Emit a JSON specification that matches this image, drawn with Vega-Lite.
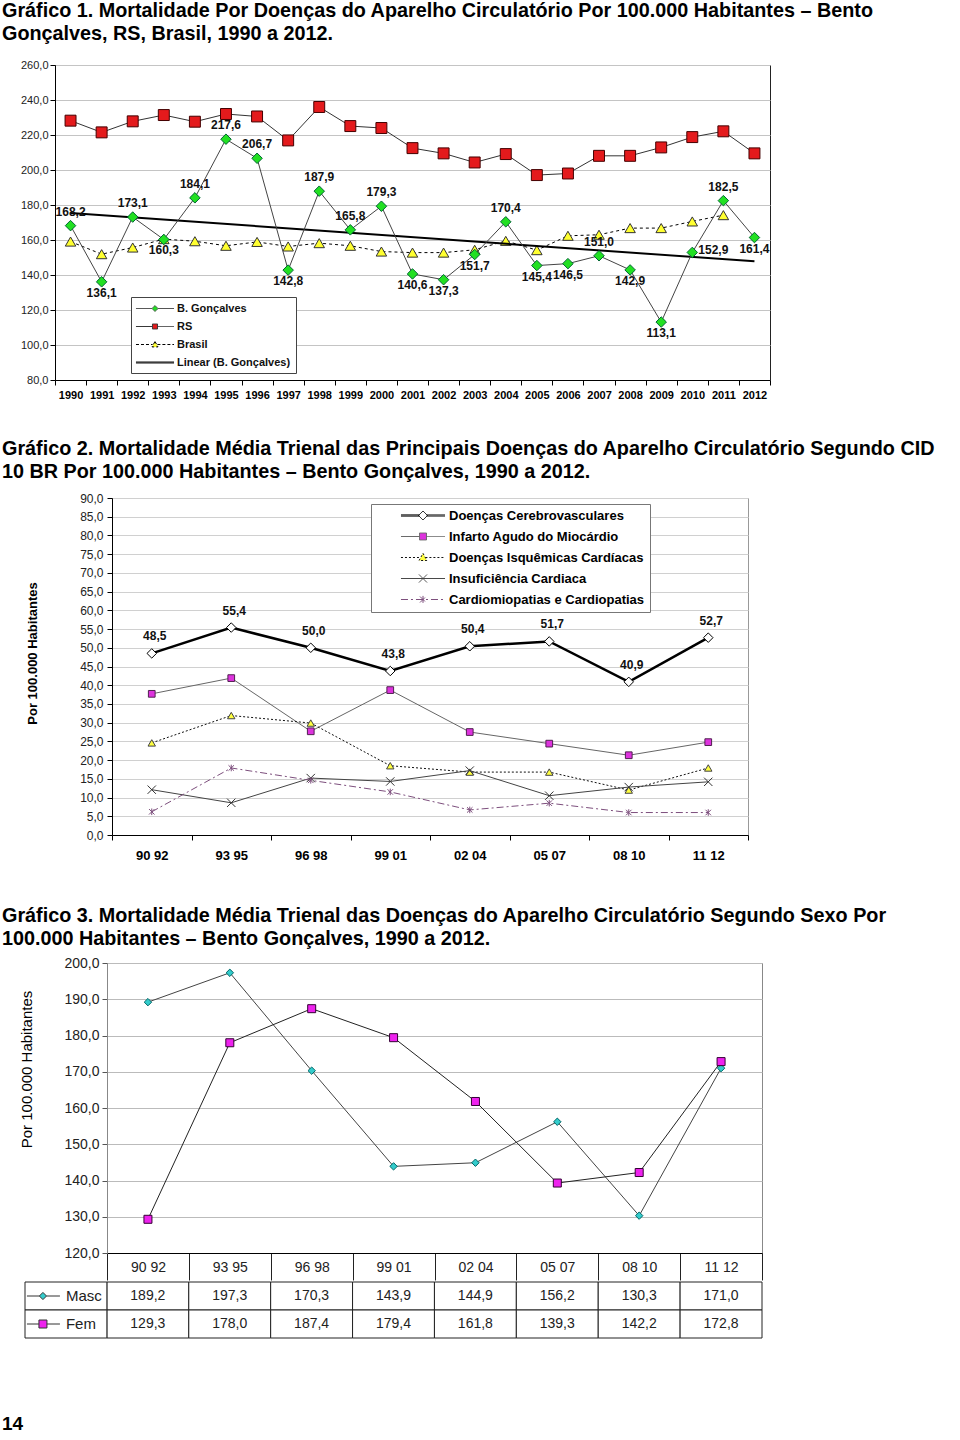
{
  "$schema": "https://vega.github.io/schema/vega-lite/v6.json",
  "padding": {"left": 2, "top": 0, "right": 0, "bottom": 0},
  "background": "white",
  "datasets": {
    "g1": [
      {"ano":1990,"serie":"B. Gonçalves","v":168.2},{"ano":1991,"serie":"B. Gonçalves","v":136.1},{"ano":1992,"serie":"B. Gonçalves","v":173.1},{"ano":1993,"serie":"B. Gonçalves","v":160.3},{"ano":1994,"serie":"B. Gonçalves","v":184.1},{"ano":1995,"serie":"B. Gonçalves","v":217.6},{"ano":1996,"serie":"B. Gonçalves","v":206.7},{"ano":1997,"serie":"B. Gonçalves","v":142.8},{"ano":1998,"serie":"B. Gonçalves","v":187.9},{"ano":1999,"serie":"B. Gonçalves","v":165.8},{"ano":2000,"serie":"B. Gonçalves","v":179.3},{"ano":2001,"serie":"B. Gonçalves","v":140.6},{"ano":2002,"serie":"B. Gonçalves","v":137.3},{"ano":2003,"serie":"B. Gonçalves","v":151.7},{"ano":2004,"serie":"B. Gonçalves","v":170.4},{"ano":2005,"serie":"B. Gonçalves","v":145.4},{"ano":2006,"serie":"B. Gonçalves","v":146.5},{"ano":2007,"serie":"B. Gonçalves","v":151.0},{"ano":2008,"serie":"B. Gonçalves","v":142.9},{"ano":2009,"serie":"B. Gonçalves","v":113.1},{"ano":2010,"serie":"B. Gonçalves","v":152.9},{"ano":2011,"serie":"B. Gonçalves","v":182.5},{"ano":2012,"serie":"B. Gonçalves","v":161.4},
      {"ano":1990,"serie":"RS","v":228.2},{"ano":1991,"serie":"RS","v":221.5},{"ano":1992,"serie":"RS","v":227.8},{"ano":1993,"serie":"RS","v":231.4},{"ano":1994,"serie":"RS","v":227.6},{"ano":1995,"serie":"RS","v":232.0},{"ano":1996,"serie":"RS","v":230.6},{"ano":1997,"serie":"RS","v":216.9},{"ano":1998,"serie":"RS","v":236.0},{"ano":1999,"serie":"RS","v":225.1},{"ano":2000,"serie":"RS","v":224.0},{"ano":2001,"serie":"RS","v":212.5},{"ano":2002,"serie":"RS","v":209.5},{"ano":2003,"serie":"RS","v":204.3},{"ano":2004,"serie":"RS","v":209.1},{"ano":2005,"serie":"RS","v":197.1},{"ano":2006,"serie":"RS","v":198.0},{"ano":2007,"serie":"RS","v":208.1},{"ano":2008,"serie":"RS","v":208.1},{"ano":2009,"serie":"RS","v":212.9},{"ano":2010,"serie":"RS","v":218.8},{"ano":2011,"serie":"RS","v":222.1},{"ano":2012,"serie":"RS","v":209.5},
      {"ano":1990,"serie":"Brasil","v":159.1},{"ano":1991,"serie":"Brasil","v":151.9},{"ano":1992,"serie":"Brasil","v":155.7},{"ano":1993,"serie":"Brasil","v":160.5},{"ano":1994,"serie":"Brasil","v":159.3},{"ano":1995,"serie":"Brasil","v":156.7},{"ano":1996,"serie":"Brasil","v":158.9},{"ano":1997,"serie":"Brasil","v":156.3},{"ano":1998,"serie":"Brasil","v":158.2},{"ano":1999,"serie":"Brasil","v":156.7},{"ano":2000,"serie":"Brasil","v":153.4},{"ano":2001,"serie":"Brasil","v":152.8},{"ano":2002,"serie":"Brasil","v":152.8},{"ano":2003,"serie":"Brasil","v":154.4},{"ano":2004,"serie":"Brasil","v":159.5},{"ano":2005,"serie":"Brasil","v":154.2},{"ano":2006,"serie":"Brasil","v":162.4},{"ano":2007,"serie":"Brasil","v":163.0},{"ano":2008,"serie":"Brasil","v":166.8},{"ano":2009,"serie":"Brasil","v":166.8},{"ano":2010,"serie":"Brasil","v":170.6},{"ano":2011,"serie":"Brasil","v":174.2}
    ],
    "g2": [
      {"per":"90 92","serie":"Doenças Cerebrovasculares","v":48.5},{"per":"93 95","serie":"Doenças Cerebrovasculares","v":55.4},{"per":"96 98","serie":"Doenças Cerebrovasculares","v":50.0},{"per":"99 01","serie":"Doenças Cerebrovasculares","v":43.8},{"per":"02 04","serie":"Doenças Cerebrovasculares","v":50.4},{"per":"05 07","serie":"Doenças Cerebrovasculares","v":51.7},{"per":"08 10","serie":"Doenças Cerebrovasculares","v":40.9},{"per":"11 12","serie":"Doenças Cerebrovasculares","v":52.7},
      {"per":"90 92","serie":"Infarto Agudo do Miocárdio","v":37.7},{"per":"93 95","serie":"Infarto Agudo do Miocárdio","v":41.9},{"per":"96 98","serie":"Infarto Agudo do Miocárdio","v":27.7},{"per":"99 01","serie":"Infarto Agudo do Miocárdio","v":38.7},{"per":"02 04","serie":"Infarto Agudo do Miocárdio","v":27.5},{"per":"05 07","serie":"Infarto Agudo do Miocárdio","v":24.4},{"per":"08 10","serie":"Infarto Agudo do Miocárdio","v":21.3},{"per":"11 12","serie":"Infarto Agudo do Miocárdio","v":24.8},
      {"per":"90 92","serie":"Doenças Isquêmicas Cardíacas","v":24.6},{"per":"93 95","serie":"Doenças Isquêmicas Cardíacas","v":31.9},{"per":"96 98","serie":"Doenças Isquêmicas Cardíacas","v":29.9},{"per":"99 01","serie":"Doenças Isquêmicas Cardíacas","v":18.5},{"per":"02 04","serie":"Doenças Isquêmicas Cardíacas","v":16.8},{"per":"05 07","serie":"Doenças Isquêmicas Cardíacas","v":16.8},{"per":"08 10","serie":"Doenças Isquêmicas Cardíacas","v":12.0},{"per":"11 12","serie":"Doenças Isquêmicas Cardíacas","v":17.9},
      {"per":"90 92","serie":"Insuficiência Cardiaca","v":12.1},{"per":"93 95","serie":"Insuficiência Cardiaca","v":8.6},{"per":"96 98","serie":"Insuficiência Cardiaca","v":15.2},{"per":"99 01","serie":"Insuficiência Cardiaca","v":14.3},{"per":"02 04","serie":"Insuficiência Cardiaca","v":17.2},{"per":"05 07","serie":"Insuficiência Cardiaca","v":10.5},{"per":"08 10","serie":"Insuficiência Cardiaca","v":12.8},{"per":"11 12","serie":"Insuficiência Cardiaca","v":14.2},
      {"per":"90 92","serie":"Cardiomiopatias e Cardiopatias","v":6.2},{"per":"93 95","serie":"Cardiomiopatias e Cardiopatias","v":17.9},{"per":"96 98","serie":"Cardiomiopatias e Cardiopatias","v":14.6},{"per":"99 01","serie":"Cardiomiopatias e Cardiopatias","v":11.5},{"per":"02 04","serie":"Cardiomiopatias e Cardiopatias","v":6.7},{"per":"05 07","serie":"Cardiomiopatias e Cardiopatias","v":8.5},{"per":"08 10","serie":"Cardiomiopatias e Cardiopatias","v":6.0},{"per":"11 12","serie":"Cardiomiopatias e Cardiopatias","v":6.0}
    ],
    "g3": [
      {"per":"90 92","sexo":"Masc","v":189.2},{"per":"93 95","sexo":"Masc","v":197.3},{"per":"96 98","sexo":"Masc","v":170.3},{"per":"99 01","sexo":"Masc","v":143.9},{"per":"02 04","sexo":"Masc","v":144.9},{"per":"05 07","sexo":"Masc","v":156.2},{"per":"08 10","sexo":"Masc","v":130.3},{"per":"11 12","sexo":"Masc","v":171.0},
      {"per":"90 92","sexo":"Fem","v":129.3},{"per":"93 95","sexo":"Fem","v":178.0},{"per":"96 98","sexo":"Fem","v":187.4},{"per":"99 01","sexo":"Fem","v":179.4},{"per":"02 04","sexo":"Fem","v":161.8},{"per":"05 07","sexo":"Fem","v":139.3},{"per":"08 10","sexo":"Fem","v":142.2},{"per":"11 12","sexo":"Fem","v":172.8}
    ]
  },
  "title": {"text": "14", "orient": "bottom", "anchor": "start", "frame": "bounds", "dx": 0, "offset": 76, "fontSize": 19, "fontWeight": "bold", "baseline": "top"},
  "spacing": 37,
  "resolve": {"scale": {"shape": "independent", "fill": "independent", "stroke": "independent", "strokeDash": "independent"}, "legend": {"shape": "independent", "fill": "independent", "stroke": "independent", "strokeDash": "independent"}},
  "vconcat": [
    {
      "title": {"text": ["Gráfico 1. Mortalidade Por Doenças do Aparelho Circulatório Por 100.000 Habitantes – Bento", "Gonçalves, RS, Brasil, 1990 a 2012."], "offset": 15},
      "bounds": "flush",
      "spacing": 0,
      "hconcat": [
        {"width": 30, "height": 1, "data": {"values": []}, "mark": "point", "encoding": {}},
        {
          "width": 715, "height": 315,
          "view": {"stroke": "#222"},
          "data": {"name": "g1"},
          "encoding": {
            "x": {"field": "ano", "type": "ordinal", "scale": {"type": "band", "paddingInner": 0, "paddingOuter": 0},
                  "axis": {"title": null, "tickBand": "extent", "tickSize": 5, "labelFontSize": 11, "labelFontWeight": "bold", "labelPadding": 4, "labelAngle": 0}},
            "y": {"field": "v", "type": "quantitative", "scale": {"domain": [80, 260], "nice": false, "zero": false},
                  "axis": {"title": null, "values": [80,100,120,140,160,180,200,220,240,260], "format": ".1f", "labelFontSize": 11, "tickSize": 5, "labelPadding": 2, "gridColor": "#c4c4c4", "labelColor": "#222"}}
          },
          "layer": [
            {"transform": [{"filter": {"field": "serie", "equal": "Brasil"}}], "mark": {"type": "line", "stroke": "#000", "strokeWidth": 1, "strokeDash": [3, 3]}},
            {"transform": [{"filter": {"field": "serie", "equal": "Brasil"}}], "mark": {"type": "point", "shape": "triangle-up", "filled": true, "fill": "#ffff30", "stroke": "#333", "strokeWidth": 1, "size": 110, "opacity": 1}},
            {"transform": [{"filter": {"field": "serie", "equal": "RS"}}], "mark": {"type": "line", "stroke": "#333", "strokeWidth": 1}},
            {"transform": [{"filter": {"field": "serie", "equal": "RS"}}], "mark": {"type": "point", "shape": "square", "filled": true, "fill": "#e41a1c", "stroke": "#400", "strokeWidth": 1, "size": 120, "opacity": 1}},
            {"transform": [{"filter": {"field": "serie", "equal": "B. Gonçalves"}}, {"regression": "v", "on": "ano"}], "mark": {"type": "line", "stroke": "#000", "strokeWidth": 2}},
            {"transform": [{"filter": {"field": "serie", "equal": "B. Gonçalves"}}], "mark": {"type": "line", "stroke": "#444", "strokeWidth": 1}},
            {"transform": [{"filter": {"field": "serie", "equal": "B. Gonçalves"}}], "mark": {"type": "point", "shape": "diamond", "filled": true, "fill": "#22e022", "stroke": "#063", "strokeWidth": 1, "size": 110, "opacity": 1}},
            {"transform": [{"filter": {"field": "serie", "equal": "B. Gonçalves"}}, {"filter": {"field": "ano", "oneOf": [1990,1992,1994,1995,1996,1998,1999,2000,2004,2007,2011]}}],
             "mark": {"type": "text", "fontSize": 12, "fontWeight": "bold", "dy": -14, "color": "#111"}, "encoding": {"text": {"field": "v", "type": "quantitative", "format": ".1f"}}},
            {"transform": [{"filter": {"field": "serie", "equal": "B. Gonçalves"}}, {"filter": {"field": "ano", "oneOf": [1991,1993,1997,2001,2002,2003,2005,2006,2008,2009,2012]}}],
             "mark": {"type": "text", "fontSize": 12, "fontWeight": "bold", "dy": 11, "color": "#111"}, "encoding": {"text": {"field": "v", "type": "quantitative", "format": ".1f"}}},
            {"transform": [{"filter": {"field": "serie", "equal": "B. Gonçalves"}}, {"filter": {"field": "ano", "oneOf": [2010]}}],
             "mark": {"type": "text", "fontSize": 12, "fontWeight": "bold", "dx": 6, "dy": -2, "align": "left", "color": "#111"}, "encoding": {"text": {"field": "v", "type": "quantitative", "format": ".1f"}}},
            {"data": {"values": [{"nota": 1}]},
             "mark": {"type": "text", "text": ["SMS - Vigilância Epidemiológica", "SES RS - NIS", "MS - Datasus"], "align": "left", "baseline": "top", "lineHeight": 14.5, "fontSize": 11, "color": "#333", "dx": 15},
             "encoding": {"x": {"datum": 2003}, "y": {"datum": 110}}},
            {"mark": {"type": "point", "filled": true, "opacity": 0},
             "encoding": {
               "shape": {"field": "serie", "type": "nominal", "scale": {"domain": ["B. Gonçalves", "RS", "Brasil", "Linear (B. Gonçalves)"], "range": ["M-3.17,0L-0.5,0M0.5,0L3.17,0M0,-0.5L0.5,0L0,0.5L-0.5,0Z", "M-3.17,0L-0.42,0M0.42,0L3.17,0M-0.42,-0.42L0.42,-0.42L0.42,0.42L-0.42,0.42Z", "M-3.17,0L-0.4,0M0.4,0L3.17,0M0,-0.5L0.5,0.4L-0.5,0.4Z", "M-3.17,-0.08L3.17,-0.08M-3.17,0.08L3.17,0.08"]},
                         "legend": {"title": null, "orient": "none", "legendX": 106, "legendY": 232, "symbolSize": 144, "symbolOffset": 12.5, "symbolOpacity": 1, "symbolStrokeWidth": 1, "labelFontSize": 11, "labelFontWeight": "bold", "labelColor": "#111", "labelOffset": 15.5, "labelLimit": 300, "fillColor": "#ffffff", "strokeColor": "#444", "padding": 5, "rowPadding": 6}},
               "fill": {"field": "serie", "type": "nominal", "scale": {"domain": ["B. Gonçalves", "RS", "Brasil", "Linear (B. Gonçalves)"], "range": ["#22e022", "#e41a1c", "#ffff30", "transparent"]},
                        "legend": {"title": null, "orient": "none", "legendX": 106, "legendY": 232, "symbolSize": 144, "symbolOffset": 12.5, "symbolOpacity": 1, "symbolStrokeWidth": 1, "labelFontSize": 11, "labelFontWeight": "bold", "labelColor": "#111", "labelOffset": 15.5, "labelLimit": 300, "fillColor": "#ffffff", "strokeColor": "#444", "padding": 5, "rowPadding": 6}},
               "stroke": {"field": "serie", "type": "nominal", "scale": {"domain": ["B. Gonçalves", "RS", "Brasil", "Linear (B. Gonçalves)"], "range": ["#555", "#333", "#000", "#000"]},
                          "legend": {"title": null, "orient": "none", "legendX": 106, "legendY": 232, "symbolSize": 144, "symbolOffset": 12.5, "symbolOpacity": 1, "symbolStrokeWidth": 1, "labelFontSize": 11, "labelFontWeight": "bold", "labelColor": "#111", "labelOffset": 15.5, "labelLimit": 300, "fillColor": "#ffffff", "strokeColor": "#444", "padding": 5, "rowPadding": 6}},
               "strokeDash": {"field": "serie", "type": "nominal", "scale": {"domain": ["B. Gonçalves", "RS", "Brasil", "Linear (B. Gonçalves)"], "range": [[1, 0], [1, 0], [3, 2], [1, 0]]},
                              "legend": {"title": null, "orient": "none", "legendX": 106, "legendY": 232, "symbolSize": 144, "symbolOffset": 12.5, "symbolOpacity": 1, "symbolStrokeWidth": 1, "labelFontSize": 11, "labelFontWeight": "bold", "labelColor": "#111", "labelOffset": 15.5, "labelLimit": 300, "fillColor": "#ffffff", "strokeColor": "#444", "padding": 5, "rowPadding": 6}}
             }}
          ]
        }
      ]
    },
    {
      "title": {"text": ["Gráfico 2. Mortalidade Média Trienal das Principais Doenças do Aparelho Circulatório Segundo CID", "10 BR Por 100.000 Habitantes – Bento Gonçalves, 1990 a 2012."], "offset": 10},
      "bounds": "flush",
      "spacing": 0,
      "hconcat": [
        {"width": 87, "height": 1, "data": {"values": []}, "mark": "point", "encoding": {}},
        {
          "width": 636, "height": 337,
          "view": {"stroke": "#999"},
          "data": {"name": "g2"},
          "encoding": {
            "x": {"field": "per", "type": "ordinal", "scale": {"type": "band", "paddingInner": 0, "paddingOuter": 0, "domain": ["90 92","93 95","96 98","99 01","02 04","05 07","08 10","11 12"]},
                  "axis": {"title": " ", "titleFontSize": 1, "titlePadding": 4, "tickBand": "extent", "tickSize": 5, "labelFontSize": 13, "labelFontWeight": "bold", "labelPadding": 9, "labelAngle": 0}},
            "y": {"field": "v", "type": "quantitative", "scale": {"domain": [0, 90], "nice": false},
                  "axis": {"title": "Por 100.000 Habitantes", "titleFontSize": 13, "titleFontWeight": "bold", "titlePadding": 40, "titleY": 155, "values": [0,5,10,15,20,25,30,35,40,45,50,55,60,65,70,75,80,85,90], "format": ".1f", "labelFontSize": 12, "tickSize": 5, "labelPadding": 4, "gridColor": "#d0d0d0", "labelColor": "#222"}}
          },
          "layer": [
            {"transform": [{"filter": {"field": "serie", "equal": "Infarto Agudo do Miocárdio"}}], "mark": {"type": "line", "stroke": "#666", "strokeWidth": 1}},
            {"transform": [{"filter": {"field": "serie", "equal": "Doenças Isquêmicas Cardíacas"}}], "mark": {"type": "line", "stroke": "#111", "strokeWidth": 1, "strokeDash": [2, 2]}},
            {"transform": [{"filter": {"field": "serie", "equal": "Insuficiência Cardiaca"}}], "mark": {"type": "line", "stroke": "#444", "strokeWidth": 1}},
            {"transform": [{"filter": {"field": "serie", "equal": "Cardiomiopatias e Cardiopatias"}}], "mark": {"type": "line", "stroke": "#7d4f7d", "strokeWidth": 1, "strokeDash": [7, 3, 2, 3]}},
            {"transform": [{"filter": {"field": "serie", "equal": "Doenças Cerebrovasculares"}}], "mark": {"type": "line", "stroke": "#000", "strokeWidth": 2.5}},
            {"transform": [{"filter": {"field": "serie", "equal": "Doenças Cerebrovasculares"}}], "mark": {"type": "point", "shape": "diamond", "filled": true, "fill": "#fff", "stroke": "#000", "strokeWidth": 1, "size": 90, "opacity": 1}},
            {"transform": [{"filter": {"field": "serie", "equal": "Infarto Agudo do Miocárdio"}}], "mark": {"type": "point", "shape": "square", "filled": true, "fill": "#dd33dd", "stroke": "#502050", "strokeWidth": 1, "size": 45, "opacity": 1}},
            {"transform": [{"filter": {"field": "serie", "equal": "Doenças Isquêmicas Cardíacas"}}], "mark": {"type": "point", "shape": "triangle-up", "filled": true, "fill": "#ffff40", "stroke": "#444", "strokeWidth": 1, "size": 55, "opacity": 1}},
            {"transform": [{"filter": {"field": "serie", "equal": "Insuficiência Cardiaca"}}], "mark": {"type": "point", "shape": "M-1,-1L1,1M-1,1L1,-1", "filled": false, "stroke": "#333", "strokeWidth": 1, "size": 70, "opacity": 1}},
            {"transform": [{"filter": {"field": "serie", "equal": "Cardiomiopatias e Cardiopatias"}}], "mark": {"type": "point", "shape": "M-1,-1L1,1M-1,1L1,-1M0,-1.2L0,1.2", "filled": false, "stroke": "#7d4f7d", "strokeWidth": 1, "size": 30, "opacity": 1}},
            {"transform": [{"filter": {"field": "serie", "equal": "Doenças Cerebrovasculares"}}],
             "mark": {"type": "text", "fontSize": 12, "fontWeight": "bold", "dy": -17, "dx": 3, "color": "#111"}, "encoding": {"text": {"field": "v", "type": "quantitative", "format": ".1f"}}},
            {"data": {"values": [{"nota": 1}]},
             "mark": {"type": "text", "text": "Fonte: SMS - Vigilância Epidemiológica", "align": "left", "baseline": "middle", "fontSize": 11, "color": "#333", "dx": 20},
             "encoding": {"x": {"datum": "90 92"}, "y": {"datum": 4.3}}},
            {"mark": {"type": "point", "filled": true, "opacity": 0},
             "encoding": {
               "shape": {"field": "serie", "type": "nominal", "scale": {"domain": ["Doenças Cerebrovasculares","Infarto Agudo do Miocárdio","Doenças Isquêmicas Cardíacas","Insuficiência Cardiaca","Cardiomiopatias e Cardiopatias"], "range": ["M-3.67,-0.1L-0.6,-0.1M0.6,-0.1L3.67,-0.1M-3.67,0.1L-0.6,0.1M0.6,0.1L3.67,0.1M0,-0.75L0.75,0L0,0.75L-0.75,0Z", "M-3.67,0L-0.58,0M0.58,0L3.67,0M-0.58,-0.58L0.58,-0.58L0.58,0.58L-0.58,0.58Z", "M-3.67,0L-0.4,0M0.4,0L3.67,0M0,-0.7L0.65,0.5L-0.65,0.5Z", "M-3.67,0L3.67,0M-0.67,-0.67L0.67,0.67M-0.67,0.67L0.67,-0.67", "M-3.67,0L3.67,0M-0.5,-0.5L0.5,0.5M-0.5,0.5L0.5,-0.5M0,-0.6L0,0.6"]},
                         "legend": {"title": null, "orient": "none", "legendX": 346, "legendY": 6, "symbolSize": 144, "symbolOffset": 40.5, "symbolOpacity": 1, "symbolStrokeWidth": 1, "labelFontSize": 13, "labelFontWeight": "bold", "labelColor": "#000", "labelOffset": 19.5, "labelLimit": 400, "fillColor": "#ffffff", "strokeColor": "#777", "padding": 5, "rowPadding": 7}},
               "fill": {"field": "serie", "type": "nominal", "scale": {"domain": ["Doenças Cerebrovasculares","Infarto Agudo do Miocárdio","Doenças Isquêmicas Cardíacas","Insuficiência Cardiaca","Cardiomiopatias e Cardiopatias"], "range": ["#ffffff", "#dd33dd", "#ffff40", "transparent", "transparent"]},
                        "legend": {"title": null, "orient": "none", "legendX": 346, "legendY": 6, "symbolSize": 144, "symbolOffset": 40.5, "symbolOpacity": 1, "symbolStrokeWidth": 1, "labelFontSize": 13, "labelFontWeight": "bold", "labelColor": "#000", "labelOffset": 19.5, "labelLimit": 400, "fillColor": "#ffffff", "strokeColor": "#777", "padding": 5, "rowPadding": 7}},
               "stroke": {"field": "serie", "type": "nominal", "scale": {"domain": ["Doenças Cerebrovasculares","Infarto Agudo do Miocárdio","Doenças Isquêmicas Cardíacas","Insuficiência Cardiaca","Cardiomiopatias e Cardiopatias"], "range": ["#000", "#666", "#111", "#444", "#7d4f7d"]},
                          "legend": {"title": null, "orient": "none", "legendX": 346, "legendY": 6, "symbolSize": 144, "symbolOffset": 40.5, "symbolOpacity": 1, "symbolStrokeWidth": 1, "labelFontSize": 13, "labelFontWeight": "bold", "labelColor": "#000", "labelOffset": 19.5, "labelLimit": 400, "fillColor": "#ffffff", "strokeColor": "#777", "padding": 5, "rowPadding": 7}},
               "strokeDash": {"field": "serie", "type": "nominal", "scale": {"domain": ["Doenças Cerebrovasculares","Infarto Agudo do Miocárdio","Doenças Isquêmicas Cardíacas","Insuficiência Cardiaca","Cardiomiopatias e Cardiopatias"], "range": [[1, 0], [1, 0], [2, 2], [1, 0], [7, 3, 2, 3]]},
                              "legend": {"title": null, "orient": "none", "legendX": 346, "legendY": 6, "symbolSize": 144, "symbolOffset": 40.5, "symbolOpacity": 1, "symbolStrokeWidth": 1, "labelFontSize": 13, "labelFontWeight": "bold", "labelColor": "#000", "labelOffset": 19.5, "labelLimit": 400, "fillColor": "#ffffff", "strokeColor": "#777", "padding": 5, "rowPadding": 7}}
             }}
          ]
        }
      ]
    },
    {
      "title": {"text": ["Gráfico 3. Mortalidade Média Trienal das Doenças do Aparelho Circulatório Segundo Sexo Por", "100.000 Habitantes – Bento Gonçalves, 1990 a 2012."], "offset": 7},
      "spacing": 0,
      "vconcat": [
        {
          "bounds": "flush",
          "spacing": 0,
          "hconcat": [
            {"width": 82, "height": 1, "data": {"values": []}, "mark": "point", "encoding": {}},
            {
              "width": 655, "height": 290,
              "view": {"stroke": "#888"},
              "data": {"name": "g3"},
              "encoding": {
                "x": {"field": "per", "type": "ordinal", "scale": {"type": "band", "paddingInner": 0, "paddingOuter": 0, "domain": ["90 92","93 95","96 98","99 01","02 04","05 07","08 10","11 12"]},
                      "axis": {"title": null, "tickBand": "extent", "tickSize": 27, "tickColor": "#222", "labelFontSize": 14, "labelPadding": -20, "labelAngle": 0, "labelColor": "#222"}},
                "y": {"field": "v", "type": "quantitative", "scale": {"domain": [120, 200], "nice": false, "zero": false},
                      "axis": {"title": "Por 100.000 Habitantes", "titleFontSize": 15, "titleFontWeight": "normal", "titlePadding": 29, "titleY": 106, "values": [120,130,140,150,160,170,180,190,200], "format": ".1f", "labelFontSize": 14, "tickSize": 5, "labelPadding": 3, "gridColor": "#bbbbbb", "labelColor": "#222", "domainColor": "#888", "tickColor": "#555"}}
              },
              "layer": [
                {"transform": [{"filter": {"field": "sexo", "equal": "Masc"}}], "mark": {"type": "line", "stroke": "#444", "strokeWidth": 1}},
                {"transform": [{"filter": {"field": "sexo", "equal": "Fem"}}], "mark": {"type": "line", "stroke": "#222", "strokeWidth": 1}},
                {"transform": [{"filter": {"field": "sexo", "equal": "Masc"}}], "mark": {"type": "point", "shape": "diamond", "filled": true, "fill": "#33cccc", "stroke": "#066", "strokeWidth": 1, "size": 55, "opacity": 1}},
                {"transform": [{"filter": {"field": "sexo", "equal": "Fem"}}], "mark": {"type": "point", "shape": "square", "filled": true, "fill": "#ee22ee", "stroke": "#303", "strokeWidth": 1, "size": 64, "opacity": 1}},
                {"data": {"values": [{"nota": 1}]},
                 "mark": {"type": "text", "text": "Fonte: SMS - Vigilância Epidemiológica", "align": "right", "baseline": "middle", "fontSize": 15, "color": "#333", "dx": 29},
                 "encoding": {"x": {"datum": "11 12"}, "y": {"datum": 193.9}}}
              ]
            }
          ]
        },
        {
          "width": 737, "height": 56,
          "data": {"name": "g3"},
          "encoding": {
            "x": {"field": "per", "type": "nominal", "scale": {"type": "band", "paddingInner": 0, "paddingOuter": 0, "domain": ["leg","90 92","93 95","96 98","99 01","02 04","05 07","08 10","11 12"]}, "axis": null},
            "y": {"field": "sexo", "type": "nominal", "scale": {"type": "band", "paddingInner": 0, "paddingOuter": 0, "domain": ["Masc", "Fem"]}, "axis": null}
          },
          "layer": [
            {"mark": {"type": "rect", "fill": "#fff", "stroke": "#222", "strokeWidth": 1}},
            {"mark": {"type": "text", "fontSize": 14, "color": "#222", "baseline": "middle"}, "encoding": {"text": {"field": "v", "type": "quantitative", "format": ".1f"}}},
            {"transform": [{"filter": {"field": "per", "equal": "90 92"}}], "mark": {"type": "rect", "fill": "#fff", "stroke": "#222", "strokeWidth": 1}, "encoding": {"x": {"datum": "leg"}}},
            {"transform": [{"filter": {"field": "per", "equal": "90 92"}}],
             "mark": {"type": "point", "filled": true, "stroke": "#333", "strokeWidth": 1, "size": 6400, "opacity": 1},
             "encoding": {
               "x": {"datum": "leg"},
               "shape": {"field": "sexo", "type": "nominal", "scale": {"domain": ["Masc", "Fem"], "range": ["M-0.975,0L-0.665,0M-0.485,0L-0.15,0M-0.575,-0.09L-0.485,0L-0.575,0.09L-0.665,0Z", "M-0.975,0L-0.675,0M-0.475,0L-0.15,0M-0.675,-0.1L-0.475,-0.1L-0.475,0.1L-0.675,0.1Z"]}, "legend": null},
               "fill": {"field": "sexo", "type": "nominal", "scale": {"domain": ["Masc", "Fem"], "range": ["#33cccc", "#ee22ee"]}, "legend": null}
             }},
            {"transform": [{"filter": {"field": "per", "equal": "90 92"}}],
             "mark": {"type": "text", "align": "left", "baseline": "middle", "fontSize": 15, "color": "#222"},
             "encoding": {"x": {"datum": "leg"}, "text": {"field": "sexo", "type": "nominal"}}}
          ]
        }
      ]
    }
  ],
  "config": {
    "font": "Liberation Sans",
    "locale": {"number": {"decimal": ",", "thousands": ".", "grouping": [3], "currency": ["R$", ""]}},
    "view": {"stroke": null},
    "axis": {"labelFont": "Liberation Sans", "titleFont": "Liberation Sans", "domainColor": "#000", "tickColor": "#000", "labelColor": "#000", "titleColor": "#000"},
    "legend": {"labelFont": "Liberation Sans"},
    "title": {"font": "Liberation Sans", "fontSize": 19.8, "fontWeight": "bold", "color": "#000", "anchor": "start", "frame": "group", "dx": -23, "lineHeight": 23}
  }
}
